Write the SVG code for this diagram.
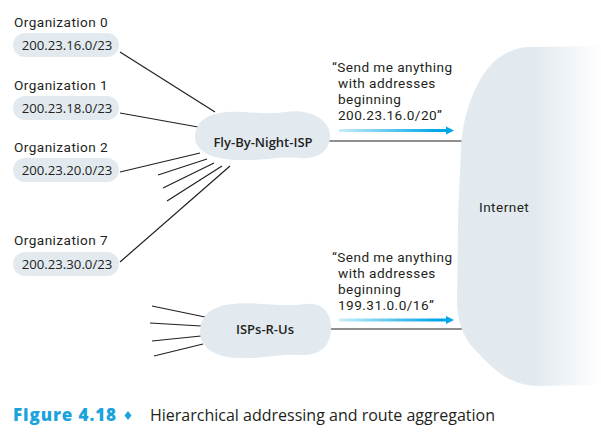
<svg xmlns="http://www.w3.org/2000/svg" width="601" height="438" viewBox="0 0 601 438">
<defs>
<style>
.t{font-family:Roboto,"Open Sans",sans-serif;font-size:13.6px;letter-spacing:0.45px;fill:#231f20}
.a{font-family:"Open Sans","Noto Sans",sans-serif;font-size:13.2px;fill:#231f20;font-weight:500}
.b{font-family:"Open Sans","Noto Sans",sans-serif;font-size:13px;fill:#231f20;font-weight:600}
.cl{fill:#e2eaf0}
.ln{stroke:#231f20;stroke-width:1.2;fill:none}
.ar{fill:url(#ag)}
</style>
<linearGradient id="ag" x1="0" x2="1" y1="0" y2="0">
<stop offset="0" stop-color="#c8ecfa"/>
<stop offset="0.85" stop-color="#00a6e6"/>
<stop offset="1" stop-color="#00a6e6"/>
</linearGradient>
<linearGradient id="ig" x1="0" x2="1" y1="0" y2="0">
<stop offset="0" stop-color="#e2eaf0"/>
<stop offset="0.55" stop-color="#e2eaf0"/>
<stop offset="1" stop-color="#ffffff"/>
</linearGradient>
</defs>
<rect width="601" height="438" fill="#fff"/>

<g id="connectors">
<path class="ln" d="M120,52 L215,112"/>
<path class="ln" d="M120,113 L198,127"/>
<path class="ln" d="M120,172 L200,153"/>
<path class="ln" d="M158,175 L207,159"/>
<path class="ln" d="M163,188 L214,163"/>
<path class="ln" d="M167,201 L222,166"/>
<path class="ln" d="M120,262 L230,166"/>
<path class="ln" d="M328,141 L463,141"/>
<path class="ln" d="M152,306 L205,317"/>
<path class="ln" d="M150,323 L201,326"/>
<path class="ln" d="M152,341 L201,336"/>
<path class="ln" d="M154,356 L203,344"/>
<path class="ln" d="M331,329 L466,329"/>
<path class="ar" d="M339,129 L446,129 L446,126.5 L454,130.5 L446,134.5 L446,132 L339,132 Z"/>
<path class="ar" d="M339,318.5 L446,318.5 L446,316 L454,320 L446,324 L446,321.5 L339,321.5 Z"/>
</g>

<g id="internet">
<path fill="url(#ig)" d="M530,47 L601,46 L601,385 L535,386 C505,384 490,365 475,350 C462,336 457,320 457,300 L458,230 C458,200 460,180 461,150 C462,110 480,70 500,57 C510,50 520,47 530,47 Z"/>
<text class="t" x="479" y="212">Internet</text>
</g>

<g id="fbn">
<path class="cl" d="M215,114 C235,108 260,116 285,112 C310,108 330,120 330,135 C331,150 318,160 300,158 C280,156 262,161 240,160 C210,160 195,150 195,137 C195,125 203,117 215,114 Z"/>
<text class="b" x="263" y="147" text-anchor="middle">Fly-By-Night-ISP</text>
</g>

<g id="isps">
<path class="cl" d="M225,305 C250,300 280,308 305,304 C325,302 332,316 331,330 C330,348 318,356 300,355 C280,354 262,359 240,358 C212,358 200,345 200,332 C200,318 208,309 225,305 Z"/>
<text class="b" x="265" y="334" text-anchor="middle">ISPs-R-Us</text>
</g>

<g id="org0">
<text class="t" x="14" y="27">Organization 0</text>
<rect class="cl" x="13" y="33" width="106" height="24" rx="12"/>
<text class="a" x="67" y="50" text-anchor="middle">200.23.16.0/23</text>
</g>
<g id="org1">
<text class="t" x="14" y="90">Organization 1</text>
<rect class="cl" x="13" y="96" width="106" height="24" rx="12"/>
<text class="a" x="67" y="113" text-anchor="middle">200.23.18.0/23</text>
</g>
<g id="org2">
<text class="t" x="14" y="152">Organization 2</text>
<rect class="cl" x="13" y="158" width="106" height="24" rx="12"/>
<text class="a" x="67" y="175" text-anchor="middle">200.23.20.0/23</text>
</g>
<g id="org7">
<text class="t" x="14" y="245">Organization 7</text>
<rect class="cl" x="13" y="252" width="106" height="24" rx="12"/>
<text class="a" x="67" y="269" text-anchor="middle">200.23.30.0/23</text>
</g>

<g id="label1">
<text class="t" x="332" y="72">“Send me anything</text>
<text class="t" x="338" y="88">with addresses</text>
<text class="t" x="338" y="104">beginning</text>
<text class="t" x="338" y="120">200.23.16.0/20”</text>
</g>
<g id="label2">
<text class="t" x="332" y="262">“Send me anything</text>
<text class="t" x="338" y="278">with addresses</text>
<text class="t" x="338" y="294">beginning</text>
<text class="t" x="338" y="310">199.31.0.0/16”</text>
</g>

<g id="caption">
<text x="13" y="421" font-family="'Open Sans','Noto Sans',sans-serif" font-size="17" font-weight="800" letter-spacing="0.9" fill="#1ba3dc">Figure 4.18</text>
<path d="M128,411 L131.5,415.5 L128,420 L124.5,415.5 Z" fill="#1ba3dc"/>
<text x="150" y="421" font-family="'Open Sans','Noto Sans',sans-serif" font-size="16" fill="#231f20">Hierarchical addressing and route aggregation</text>
</g>
</svg>
